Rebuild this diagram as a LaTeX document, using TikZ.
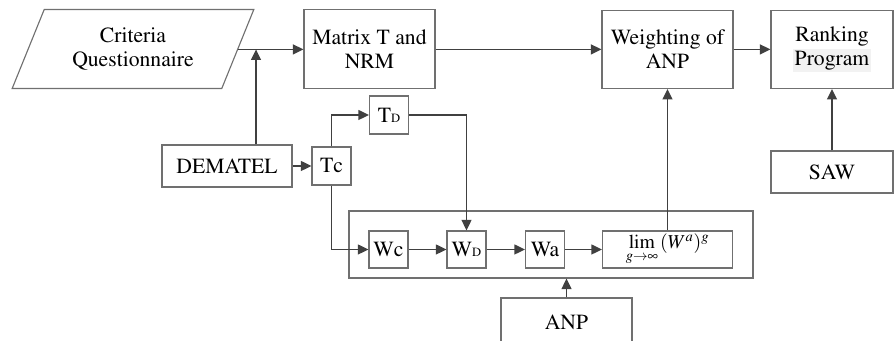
\documentclass[tikz,border=0pt]{standalone}
\usepackage[T1]{fontenc}
\usepackage{mathptmx}
\usetikzlibrary{arrows.meta,positioning,shapes.geometric}
\definecolor{FlowInk}{HTML}{404040}
\definecolor{BoxRule}{HTML}{707070}
\definecolor{ProgramShade}{HTML}{F2F2F2}
\newcommand{\lowcap}[1]{{\fontsize{9}{9}\selectfont #1}}

\begin{document}
\begin{tikzpicture}[
  x=1cm,y=1cm,>={Triangle[length=7.5pt,width=7pt]},
  every node/.style={font=\rmfamily\fontsize{15.4}{17.5}\selectfont,text=black},
  block/.style={draw=BoxRule,line width=.8pt,fill=white,align=center,inner sep=1pt},
  tiny/.style={block,minimum width=.975cm,minimum height=.95cm},
  flow/.style={->,draw=FlowInk,line width=1.2pt}
]
\useasboundingbox (0,0) rectangle (22.35,8.525);
% Top row: questionnaire, matrix, weighting, ranking.
\node[block,trapezium,trapezium left angle=64,trapezium right angle=116,
  trapezium stretches=true,minimum width=6.05cm,minimum height=1.975cm]
  (quest) at (3.325,7.3) {Criteria\\Questionnaire};
\node[block,minimum width=3.275cm,minimum height=1.975cm] (matrix) at (9.2375,7.29)
  {Matrix T and\\NRM};
\node[block,minimum width=3.275cm,minimum height=1.95cm] (weight) at (16.6875,7.29)
  {Weighting of\\ANP};
\node[block,minimum width=3.05cm,minimum height=1.95cm] (rank) at (20.8,7.29)
  {Ranking\\{\setlength{\fboxsep}{1.5pt}\colorbox{ProgramShade}{Program}}};
\node[block,minimum width=3.05cm,minimum height=1.05cm] (saw) at (20.8,4.225) {SAW};
% DEMATEL branch.
\node[block,minimum width=3.25cm,minimum height=1.05cm] (dematel) at (5.675,4.375) {DEMATEL};
\node[tiny] (tc) at (8.2875,4.375) {Tc};
\node[tiny] (td) at (9.725,5.65) {T\lowcap{D}};
% ANP supermatrix chain inside its frame.
\node[draw=BoxRule,line width=.8pt,minimum width=10.1cm,minimum height=1.675cm]
  (frame) at (13.775,2.4125) {};
\node[tiny,minimum height=.925cm] (wc) at (9.7125,2.2875) {Wc};
\node[tiny,minimum height=.925cm] (wd) at (11.6625,2.2875) {W\lowcap{D}};
\node[tiny,minimum height=.925cm] (wa) at (13.625,2.2875) {Wa};
\node[block,minimum width=3.25cm,minimum height=.925cm,inner sep=0pt] (limit) at (16.6875,2.2875)
  {\fontsize{14}{14}\selectfont$\lim\limits_{g\to\infty}\,(W^a)^g$};
\node[block,minimum width=3.275cm,minimum height=1.2cm] (anp) at (14.1625,.475) {ANP};
% Connectors.
\coordinate (join) at (6.4,7.29);
\draw[flow] (quest.east |- matrix.west)--(matrix.west);
\draw[flow] (dematel.north -| join)--(join);
\draw[flow] (matrix.east)--(weight.west);
\draw[flow] (weight.east)--(rank.west);
\draw[flow] (saw.north)--(rank.south);
\draw[flow] (dematel.east)--(tc.west);
\draw[flow] (tc.north) |- (td.west);
\draw[flow] (td.east) -| (wd.north);
\draw[flow] (tc.south) |- (wc.west);
\draw[flow] (wc.east)--(wd.west);
\draw[flow] (wd.east)--(wa.west);
\draw[flow] (wa.east)--(limit.west);
\draw[flow] (limit.north)--(weight.south);
\draw[flow] (anp.north)--(anp.north |- frame.south);
\end{tikzpicture}
\end{document}
